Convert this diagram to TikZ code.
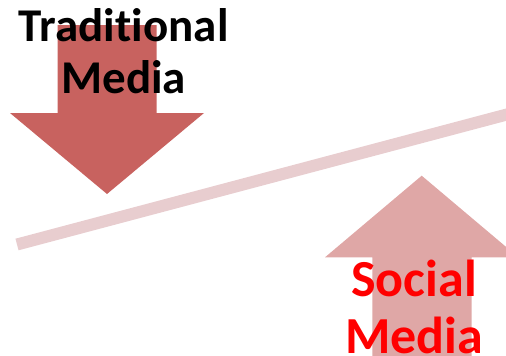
\documentclass[tikz,border=0pt]{standalone}
\usepackage{fontspec}
\setmainfont{Carlito}[Ligatures=NoCommon]
\definecolor{downred}{HTML}{C8625F}
\definecolor{uppink}{HTML}{DFA7A6}
\definecolor{beampink}{HTML}{E8CDCF}
\definecolor{socialred}{HTML}{FF0000}
\begin{document}
\begin{tikzpicture}[x=1pt,y=-1pt,
  labeltext/.style={inner sep=0pt,align=center,font=\bfseries}]
\useasboundingbox (0,0) rectangle (506,356);
\clip (0,0) rectangle (506,356);
% down arrow
\fill[downred] (57.7,25) -- (156.7,25) -- (156.7,113) -- (204,113) -- (107,194)
  -- (10,113) -- (57.7,113) -- cycle;
% up arrow
\fill[uppink] (421.7,175.7) -- (518.4,257.3) -- (471.7,257.3) -- (471.7,370)
  -- (372.3,370) -- (372.3,257.3) -- (325,257.3) -- cycle;
% beam
\coordinate (bl) at (17,244.5);
\coordinate (br) at (520,111);
\draw[beampink,line width=12pt] (bl) -- (br);
% labels
\node[labeltext,anchor=base,text=black,font=\bfseries\fontsize{47}{52}\selectfont]
  (trad) at (123.7,93.5) {Traditional\\Media};
\node[labeltext,anchor=base,text=socialred,font=\bfseries\fontsize{52}{57}\selectfont]
  (soc) at (414,353.7) {Social\\Media};
\end{tikzpicture}
\end{document}
